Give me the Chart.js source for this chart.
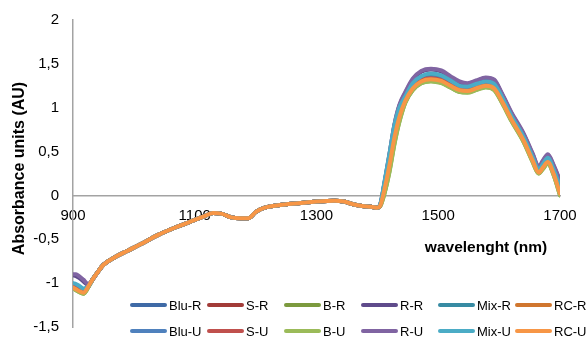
<!DOCTYPE html>
<html>
<head>
<meta charset="utf-8">
<script src="https://cdn.jsdelivr.net/npm/chart.js@4"></script>
<style>
html,body{margin:0;padding:0;background:#fff;}
#wrap{width:587px;height:340px;position:relative;}
</style>
</head>
<body>
<div id="wrap"><canvas id="c"></canvas></div>
<script>
// wavelengths (nm)
const wavelengths = [900,905,910,917,925,932,940,950,970,990,1010,1040,1070,1100,1115,1130,1145,1160,1175,1188,1200,1215,1240,1270,1300,1330,1345,1360,1375,1390,1400,1405,1412,1420,1428,1436,1446,1458,1472,1488,1505,1520,1535,1548,1562,1578,1592,1605,1620,1640,1655,1665,1672,1680,1690,1700];

const bluR = [-1.03,-1.05,-1.07,-1.10,-1.04,-0.96,-0.88,-0.79,-0.70,-0.63,-0.56,-0.45,-0.36,-0.28,-0.24,-0.20,-0.21,-0.25,-0.26,-0.26,-0.19,-0.14,-0.11,-0.09,-0.07,-0.06,-0.07,-0.10,-0.12,-0.13,-0.14,-0.11,0.12,0.40,0.72,0.94,1.11,1.25,1.34,1.36,1.34,1.28,1.23,1.22,1.25,1.28,1.25,1.10,0.89,0.65,0.42,0.28,0.34,0.41,0.27,0.065];
const sR   = [-1.04,-1.06,-1.08,-1.11,-1.04,-0.96,-0.88,-0.79,-0.70,-0.63,-0.56,-0.45,-0.36,-0.28,-0.24,-0.20,-0.21,-0.25,-0.26,-0.26,-0.19,-0.14,-0.11,-0.09,-0.07,-0.06,-0.07,-0.10,-0.12,-0.13,-0.14,-0.11,0.09,0.38,0.69,0.92,1.10,1.24,1.32,1.35,1.33,1.27,1.22,1.21,1.24,1.27,1.24,1.09,0.89,0.65,0.42,0.27,0.34,0.40,0.26,0.05];
const bR   = [-1.06,-1.08,-1.10,-1.12,-1.05,-0.96,-0.88,-0.79,-0.70,-0.63,-0.56,-0.45,-0.36,-0.28,-0.24,-0.20,-0.21,-0.25,-0.26,-0.26,-0.19,-0.14,-0.11,-0.09,-0.07,-0.06,-0.07,-0.10,-0.12,-0.13,-0.14,-0.12,0.03,0.28,0.59,0.84,1.06,1.20,1.28,1.305,1.285,1.23,1.18,1.175,1.205,1.235,1.205,1.055,0.855,0.615,0.385,0.25,0.305,0.365,0.225,0.00];
const rR   = [-0.91,-0.92,-0.94,-0.98,-1.02,-0.96,-0.88,-0.79,-0.70,-0.63,-0.56,-0.45,-0.36,-0.28,-0.24,-0.20,-0.21,-0.25,-0.26,-0.26,-0.19,-0.14,-0.11,-0.09,-0.07,-0.06,-0.07,-0.10,-0.12,-0.13,-0.14,-0.10,0.15,0.47,0.80,1.02,1.17,1.32,1.41,1.435,1.415,1.35,1.29,1.27,1.30,1.34,1.31,1.15,0.94,0.70,0.47,0.32,0.39,0.46,0.33,0.16];
const mixR = [-1.01,-1.02,-1.04,-1.07,-1.04,-0.96,-0.88,-0.79,-0.70,-0.63,-0.56,-0.45,-0.36,-0.28,-0.24,-0.20,-0.21,-0.25,-0.26,-0.26,-0.19,-0.14,-0.11,-0.09,-0.07,-0.06,-0.07,-0.10,-0.12,-0.13,-0.14,-0.10,0.15,0.45,0.77,0.98,1.12,1.26,1.35,1.37,1.35,1.29,1.24,1.23,1.26,1.29,1.26,1.11,0.90,0.66,0.43,0.29,0.35,0.42,0.28,0.08];
const rcR  = [-1.05,-1.07,-1.09,-1.11,-1.04,-0.96,-0.88,-0.79,-0.70,-0.63,-0.56,-0.45,-0.36,-0.28,-0.24,-0.20,-0.21,-0.25,-0.26,-0.26,-0.19,-0.14,-0.11,-0.09,-0.07,-0.06,-0.07,-0.10,-0.12,-0.13,-0.14,-0.11,0.08,0.35,0.66,0.89,1.085,1.225,1.305,1.33,1.31,1.255,1.205,1.195,1.225,1.255,1.225,1.075,0.875,0.635,0.405,0.265,0.325,0.385,0.245,0.03];
const bluU = [-1.02,-1.04,-1.06,-1.09,-1.04,-0.96,-0.88,-0.79,-0.70,-0.63,-0.56,-0.45,-0.36,-0.28,-0.24,-0.20,-0.21,-0.25,-0.26,-0.26,-0.19,-0.14,-0.11,-0.09,-0.07,-0.06,-0.07,-0.10,-0.12,-0.13,-0.14,-0.11,0.10,0.39,0.70,0.91,1.09,1.23,1.31,1.34,1.32,1.26,1.21,1.20,1.23,1.26,1.23,1.08,0.88,0.64,0.41,0.27,0.33,0.39,0.25,0.04];
const sU   = [-1.04,-1.06,-1.08,-1.10,-1.04,-0.96,-0.88,-0.79,-0.70,-0.63,-0.56,-0.45,-0.36,-0.28,-0.24,-0.20,-0.21,-0.25,-0.26,-0.26,-0.19,-0.14,-0.11,-0.09,-0.07,-0.06,-0.07,-0.10,-0.12,-0.13,-0.14,-0.11,0.08,0.35,0.67,0.90,1.09,1.23,1.31,1.335,1.315,1.26,1.21,1.20,1.23,1.26,1.23,1.08,0.88,0.64,0.41,0.27,0.33,0.39,0.25,0.03];
const bU   = [-1.06,-1.08,-1.10,-1.12,-1.05,-0.96,-0.88,-0.79,-0.70,-0.63,-0.56,-0.45,-0.36,-0.28,-0.24,-0.20,-0.21,-0.25,-0.26,-0.26,-0.19,-0.14,-0.11,-0.09,-0.07,-0.06,-0.07,-0.10,-0.12,-0.13,-0.14,-0.12,0.03,0.27,0.58,0.83,1.06,1.20,1.28,1.30,1.28,1.23,1.18,1.17,1.20,1.23,1.20,1.05,0.85,0.61,0.38,0.25,0.30,0.36,0.22,0.00];
const rU   = [-0.90,-0.90,-0.92,-0.96,-1.01,-0.96,-0.88,-0.79,-0.70,-0.63,-0.56,-0.45,-0.36,-0.28,-0.24,-0.20,-0.21,-0.25,-0.26,-0.26,-0.19,-0.14,-0.11,-0.09,-0.07,-0.06,-0.07,-0.10,-0.12,-0.13,-0.14,-0.10,0.16,0.48,0.81,1.03,1.18,1.33,1.42,1.445,1.425,1.36,1.30,1.28,1.31,1.345,1.32,1.16,0.95,0.71,0.48,0.33,0.40,0.47,0.34,0.17];
const mixU = [-1.00,-1.01,-1.03,-1.06,-1.04,-0.96,-0.88,-0.79,-0.70,-0.63,-0.56,-0.45,-0.36,-0.28,-0.24,-0.20,-0.21,-0.25,-0.26,-0.26,-0.19,-0.14,-0.11,-0.09,-0.07,-0.06,-0.07,-0.10,-0.12,-0.13,-0.14,-0.09,0.17,0.48,0.80,1.00,1.13,1.28,1.36,1.39,1.37,1.31,1.25,1.24,1.27,1.30,1.27,1.12,0.91,0.67,0.44,0.30,0.36,0.43,0.29,0.10];
const rcU  = [-1.05,-1.07,-1.09,-1.11,-1.04,-0.96,-0.88,-0.79,-0.70,-0.63,-0.56,-0.45,-0.36,-0.28,-0.24,-0.20,-0.21,-0.25,-0.26,-0.26,-0.19,-0.14,-0.11,-0.09,-0.07,-0.06,-0.07,-0.10,-0.12,-0.13,-0.14,-0.11,0.08,0.35,0.66,0.89,1.08,1.22,1.30,1.325,1.305,1.25,1.20,1.19,1.22,1.25,1.22,1.07,0.87,0.63,0.40,0.26,0.32,0.38,0.24,0.02];

const seriesNames  = ['Blu-R','S-R','B-R','R-R','Mix-R','RC-R','Blu-U','S-U','B-U','R-U','Mix-U','RC-U'];
const seriesValues = [bluR, sR, bR, rR, mixR, rcR, bluU, sU, bU, rU, mixU, rcU];
const seriesColors = ['#3F6AA6','#A23B38','#7C9A3E','#5F4B8B','#378BA3','#D0762E','#4F81BD','#C0504D','#9BBB59','#8064A2','#4BACC6','#F79646'];

const xTickValues = [900,1100,1300,1500,1700];
const yTickLabels = ['-1,5','-1','-0,5','0','0,5','1','1,5','2'];
const xTitle = 'wavelenght (nm)';
const yTitle = 'Absorbance units (AU)';

const FONT = "'Liberation Sans', Arial, sans-serif";
const AXIS_COLOR = '#a3a3a3';

const datasets = seriesNames.map((name, i) => ({
  label: name,
  data: seriesValues[i],
  borderColor: seriesColors[i],
  backgroundColor: seriesColors[i],
  borderWidth: 4,
  pointRadius: 0,
  pointHoverRadius: 0,
  fill: false,
  cubicInterpolationMode: 'monotone',
  borderJoinStyle: 'round',
  borderCapStyle: 'round',
  order: seriesNames.length - i
}));

const overlayPlugin = {
  id: 'overlay',
  afterDraw(chart) {
    const ctx = chart.ctx;
    const area = chart.chartArea;
    const yScale = chart.scales.y;
    const zeroY = yScale.getPixelForValue(0);
    ctx.save();
    // axis titles
    ctx.fillStyle = '#000';
    ctx.font = 'bold 15.5px ' + FONT;
    ctx.textAlign = 'center';
    ctx.textBaseline = 'middle';
    ctx.fillText(xTitle, area.right - 74, zeroY + 52);
    ctx.save();
    ctx.translate(20, (area.top + area.bottom) / 2 - 5);
    ctx.rotate(-Math.PI / 2);
    ctx.font = 'bold 16px ' + FONT;
    ctx.fillText(yTitle, 0, 0);
    ctx.restore();
    // legend, 6 columns x 2 rows
    ctx.font = '13px ' + FONT;
    ctx.textAlign = 'left';
    ctx.lineCap = 'round';
    ctx.lineWidth = 4;
    seriesNames.forEach((name, i) => {
      const col = i % 6, row = Math.floor(i / 6);
      const x0 = area.left + 57 + col * 77;
      const y0 = area.bottom - 22 + row * 26;
      ctx.strokeStyle = seriesColors[i];
      ctx.beginPath();
      ctx.moveTo(x0 + 2, y0);
      ctx.lineTo(x0 + 35, y0);
      ctx.stroke();
      ctx.fillStyle = '#000';
      ctx.fillText(name, x0 + 39, y0 + 1);
    });
    ctx.restore();
  }
};

new Chart(document.getElementById('c'), {
  type: 'line',
  data: { labels: wavelengths, datasets },
  options: {
    responsive: true,
    maintainAspectRatio: false,
    animation: false,
    events: [],
    layout: { padding: { top: 20, bottom: 13, right: 27, left: 0 } },
    plugins: { legend: { display: false }, tooltip: { enabled: false }, title: { display: false } },
    scales: {
      x: {
        type: 'linear',
        position: { y: 0 },
        min: 900, max: 1700,
        afterBuildTicks: (scale) => { scale.ticks = xTickValues.map(v => ({ value: v })); },
        afterFit: (scale) => { scale.paddingLeft = 0; scale.paddingRight = 0; scale.paddingTop = 0; scale.paddingBottom = 0; },
        grid: { display: false, drawTicks: false },
        border: { display: true, color: AXIS_COLOR, width: 1.5 },
        ticks: { color: '#000', font: { family: FONT, size: 15 }, padding: 11, maxRotation: 0, autoSkip: false, callback: (v) => String(v) }
      },
      y: {
        type: 'linear',
        min: -1.5, max: 2,
        afterFit: (scale) => { scale.width = 73; scale.paddingTop = 0; scale.paddingBottom = 0; },
        grid: { display: false, drawTicks: false },
        border: { display: true, color: AXIS_COLOR, width: 1.5 },
        ticks: { stepSize: 0.5, color: '#000', font: { family: FONT, size: 15 }, padding: 14, callback: (v, i) => yTickLabels[i] }
      }
    }
  },
  plugins: [overlayPlugin]
});
</script>
</body>
</html>
